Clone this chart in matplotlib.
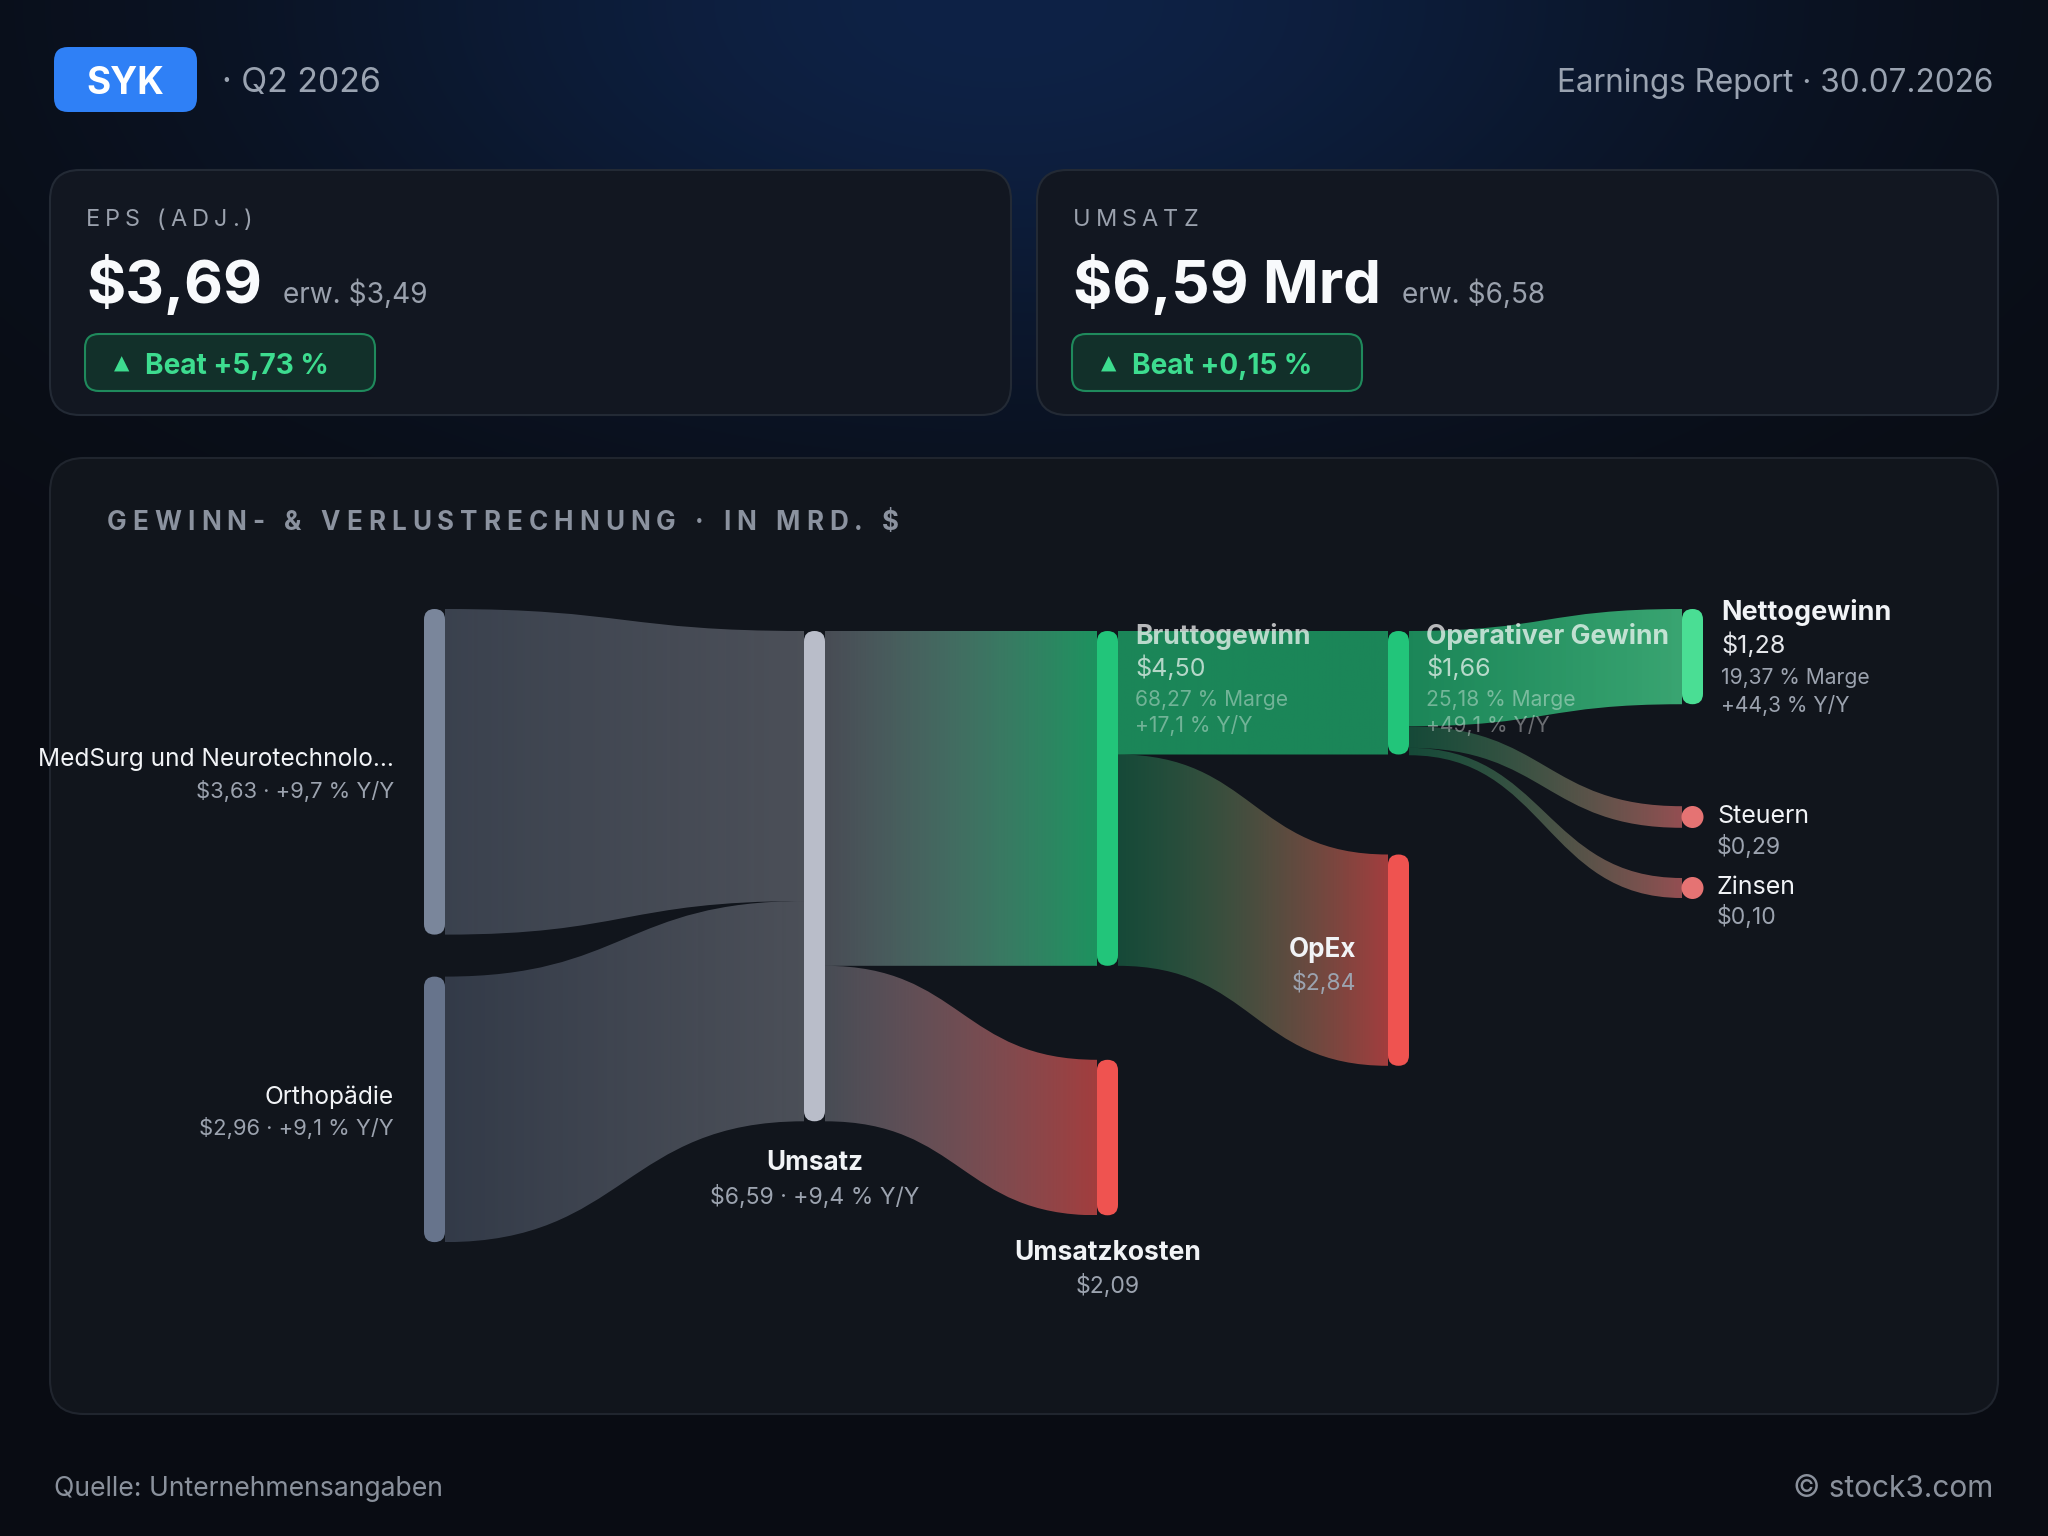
import numpy as np
import matplotlib
matplotlib.use("Agg")
import matplotlib.pyplot as plt
from matplotlib.patches import FancyBboxPatch, PathPatch, Circle
from matplotlib.path import Path
from matplotlib.colors import to_rgb

plt.rcParams['font.family'] = ['Inter', 'DejaVu Sans']

# ---- data ----
ticker = "SYK"
quarter = "Q2 2026"
report_date = "30.07.2026"

kpi_titles = ["EPS (ADJ.)", "UMSATZ"]
kpi_actual = ["$3,69", "$6,59 Mrd"]
kpi_estimate = ["erw. $3,49", "erw. $6,58"]
kpi_beat = ["Beat +5,73 %", "Beat +0,15 %"]

segment_names = ["MedSurg und Neurotechnolo...", "Orthopädie"]
segment_values = [3.63, 2.96]
segment_yoy = ["+9,7 % Y/Y", "+9,1 % Y/Y"]

revenue = 6.59
revenue_yoy = "+9,4 % Y/Y"
cost_of_revenue = 2.09
gross_profit = 4.50
gross_notes = ["68,27 % Marge", "+17,1 % Y/Y"]
opex = 2.84
operating_income = 1.66
operating_notes = ["25,18 % Marge", "+49,1 % Y/Y"]
net_income = 1.28
net_notes = ["19,37 % Marge", "+44,3 % Y/Y"]
taxes = 0.29
interest = 0.10


def money(v):
    return "$" + f"{v:.2f}".replace(".", ",")


# ---- canvas: one axes in pixel units ----
W, H = 2048, 1536
fig = plt.figure(figsize=(W / 100, H / 100), dpi=100)
ax = fig.add_axes([0, 0, 1, 1])
ax.axis("off")
PT = 0.72  # px -> pt at dpi 100

# background with a soft blue glow at the top
yy, xx = np.mgrid[0:H:4, 0:W:4]
glow = np.exp(-((xx - 1000) / 750.0) ** 2 - (yy / 400.0) ** 2)
base = np.array(to_rgb("#090c13"))
blue = np.array(to_rgb("#0e2246"))
bg = base[None, None, :] * (1 - glow[..., None]) + blue[None, None, :] * glow[..., None]
ax.imshow(bg, extent=(0, W, H, 0), zorder=0, interpolation="bilinear", aspect="auto")


def rbox(x, y, w, h, r, fc, ec="none", lw=0, z=1):
    ax.add_patch(FancyBboxPatch((x, y), w, h, boxstyle=f"round,pad=0,rounding_size={r}",
                                fc=fc, ec=ec, lw=lw, zorder=z))


def text_w(t):
    return t.get_window_extent(fig.canvas.get_renderer()).width


def spaced_text(x, y, s, gap, **kw):
    for ch in s:
        if ch == " ":
            x += kw["fontsize"] / PT * 0.28 + gap
            continue
        t = ax.text(x, y, ch, ha="left", **kw)
        x += text_w(t) + gap


# ---- header ----
rbox(54, 47, 143, 65, 14, "#2f80f6", z=2)
ax.text(125.5, 80, ticker, ha="center", va="center_baseline", fontsize=37 * PT,
        fontweight="bold", color="white", zorder=3)
ax.text(222, 80, "· " + quarter, ha="left", va="center_baseline", fontsize=34 * PT,
        color="#9aa3b1", zorder=3)
ax.text(1993, 80, "Earnings Report · " + report_date, ha="right", va="center_baseline",
        fontsize=31.5 * PT, color="#9aa3b1", zorder=3)

# ---- KPI cards ----
for i in range(2):
    dx = i * 987
    rbox(50 + dx, 170, 961, 245, 30, "#121721", ec="#232a35", lw=1.5, z=1)
    spaced_text(86 + dx, 218, kpi_titles[i], 5, va="center_baseline", fontsize=23.5 * PT,
                color="#9aa1ad", zorder=3)
    big = ax.text(86 + dx, 303, kpi_actual[i], ha="left", va="baseline", fontsize=60 * PT,
                  fontweight="bold", color="#f8fafc", zorder=3)
    ax.text(86 + dx + text_w(big) + 21, 303, kpi_estimate[i], ha="left", va="baseline",
            fontsize=28 * PT, color="#9aa1ad", zorder=3)
    rbox(85 + dx, 334, 290, 57, 14, "#12302a", ec="#1f8a5c", lw=1.5, z=2)
    ax.text(122 + dx, 364, "▲", ha="center", va="center", fontsize=20 * PT,
            color="#3ddc8f", family="DejaVu Sans", zorder=3)
    ax.text(145 + dx, 364, kpi_beat[i], ha="left", va="center_baseline", fontsize=28 * PT,
            fontweight="bold", color="#3ddc8f", zorder=3)

# ---- P&L card ----
rbox(50, 458, 1948, 956, 34, "#11151c", ec="#20252e", lw=1.5, z=1)
spaced_text(107, 520, "GEWINN- & VERLUSTRECHNUNG · IN MRD. $", 6, va="center_baseline",
            fontsize=26 * PT, fontweight="bold", color="#8b929f", zorder=3)

# ---- sankey ----
flows = [
    ("seg0", "rev", segment_values[0]),
    ("seg1", "rev", segment_values[1]),
    ("rev", "gp", gross_profit),
    ("rev", "cogs", cost_of_revenue),
    ("gp", "op", operating_income),
    ("gp", "opex", opex),
    ("op", "net", net_income),
    ("op", "tax", taxes),
    ("op", "int", interest),
]
values = {"seg0": segment_values[0], "seg1": segment_values[1], "rev": revenue,
          "gp": gross_profit, "cogs": cost_of_revenue, "op": operating_income,
          "opex": opex, "net": net_income, "tax": taxes, "int": interest}
column = {"seg0": 0, "seg1": 0, "rev": 1, "gp": 2, "cogs": 2, "op": 3, "opex": 3,
          "net": 4, "tax": 4, "int": 4}
col_x = [424, 804, 1097, 1388, 1682]
node_w = 21
col_scale = [89.7, 74.4, 74.4, 74.4, 74.4]
dot_r = 11
dots = ["tax", "int"]
colors = {"seg0": "#7a869b", "seg1": "#67748c", "rev": "#b9bdc9", "gp": "#22c57a",
          "cogs": "#ef5350", "op": "#22c57a", "opex": "#ef5350", "net": "#4ade94",
          "tax": "#e57373", "int": "#e57373"}
link_alpha = {("seg0", "rev"): (0.4, 0.35), ("seg1", "rev"): (0.4, 0.35),
              ("rev", "gp"): (0.33, 0.72), ("rev", "cogs"): (0.33, 0.66),
              ("gp", "op"): (0.65, 0.65), ("gp", "opex"): (0.3, 0.66),
              ("op", "net"): (0.65, 0.72), ("op", "tax"): (0.3, 0.62),
              ("op", "int"): (0.3, 0.62)}


def height(n):
    return values[n] * col_scale[column[n]]


top = {}
top["seg0"] = 609
top["seg1"] = top["seg0"] + height("seg0") + 42
top["rev"] = 631
top["gp"] = 631
top["cogs"] = top["gp"] + height("gp") + 94
top["op"] = 631
top["opex"] = top["op"] + height("op") + 100
top["net"] = 609
dot_center = {"tax": 817, "int": 888}

out_off = dict(top)
in_off = dict(top)


def grad_link(x0, y0t, y0b, x1, y1t, y1b, c0, a0, c1, a1):
    xm = (x0 + x1) / 2
    verts = [(x0, y0t), (xm, y0t), (xm, y1t), (x1, y1t), (x1, y1b),
             (xm, y1b), (xm, y0b), (x0, y0b), (x0, y0t)]
    codes = [Path.MOVETO, Path.CURVE4, Path.CURVE4, Path.CURVE4, Path.LINETO,
             Path.CURVE4, Path.CURVE4, Path.CURVE4, Path.CLOSEPOLY]
    patch = PathPatch(Path(verts, codes), fc="none", ec="none")
    ax.add_patch(patch)
    t = np.linspace(0, 1, 256)
    rgba = np.zeros((1, 256, 4))
    r0, r1 = np.array(to_rgb(c0)), np.array(to_rgb(c1))
    rgba[0, :, :3] = r0[None, :] * (1 - t[:, None]) + r1[None, :] * t[:, None]
    rgba[0, :, 3] = a0 * (1 - t) + a1 * t
    ys = [v[1] for v in verts]
    im = ax.imshow(rgba, extent=(x0, x1, max(ys), min(ys)), aspect="auto",
                   interpolation="bilinear", zorder=4)
    im.set_clip_path(patch)


for src, tgt, v in flows:
    hs = v * col_scale[column[src]]
    ht = v * col_scale[column[tgt]]
    y0t = out_off[src]
    out_off[src] += hs
    if tgt in dots:
        ht = max(ht, 2 * dot_r - 2)
        y1t = dot_center[tgt] - ht / 2
    else:
        y1t = in_off[tgt]
        in_off[tgt] += ht
    a0, a1 = link_alpha[(src, tgt)]
    grad_link(col_x[column[src]] + node_w, y0t, y0t + hs, col_x[column[tgt]], y1t, y1t + ht,
              colors[src], a0, colors[tgt], a1)

for n in values:
    x = col_x[column[n]]
    if n in dots:
        ax.add_patch(Circle((x + node_w / 2, dot_center[n]), dot_r, fc=colors[n], ec="none",
                            zorder=6))
    else:
        rbox(x, top[n], node_w, height(n), node_w / 2, colors[n], z=6)

# ---- sankey labels ----
WHITE = "#f1f3f6"
GREY = "#9ca3af"
for i, n in enumerate(["seg0", "seg1"]):
    cy = top[n] + height(n) / 2
    ax.text(col_x[0] - 30, cy - 15, segment_names[i], ha="right", va="center_baseline",
            fontsize=24.5 * PT, color=WHITE, zorder=7)
    ax.text(col_x[0] - 30, cy + 17, money(segment_values[i]) + " · " + segment_yoy[i],
            ha="right", va="center_baseline", fontsize=22 * PT, color=GREY, zorder=7)

cx = col_x[1] + node_w / 2
yb = top["rev"] + height("rev")
ax.text(cx, yb + 39, "Umsatz", ha="center", va="center_baseline", fontsize=26 * PT,
        fontweight="bold", color=WHITE, zorder=7)
ax.text(cx, yb + 73, money(revenue) + " · " + revenue_yoy, ha="center", va="center_baseline",
        fontsize=23 * PT, color=GREY, zorder=7)

cx = col_x[2] + node_w / 2
yb = top["cogs"] + height("cogs")
ax.text(cx, yb + 35, "Umsatzkosten", ha="center", va="center_baseline", fontsize=26.5 * PT,
        fontweight="bold", color=WHITE, zorder=7)
ax.text(cx, yb + 68, money(cost_of_revenue), ha="center", va="center_baseline",
        fontsize=23 * PT, color=GREY, zorder=7)

# labels drawn over the green bands
for n, name, notes in [("gp", "Bruttogewinn", gross_notes),
                       ("op", "Operativer Gewinn", operating_notes)]:
    x = col_x[column[n]] + node_w + 17
    y = top[n]
    ax.text(x, y + 3, name, ha="left", va="center_baseline", fontsize=26.5 * PT,
            fontweight="bold", color="white", alpha=0.7, zorder=7)
    ax.text(x, y + 35, money(values[n]), ha="left", va="center_baseline", fontsize=25 * PT,
            color="white", alpha=0.68, zorder=7)
    ax.text(x, y + 67, notes[0], ha="left", va="center_baseline", fontsize=21 * PT,
            color="white", alpha=0.38, zorder=7)
    ax.text(x, y + 93, notes[1], ha="left", va="center_baseline", fontsize=21 * PT,
            color="white", alpha=0.38, zorder=7)

x = col_x[4] + node_w + 18
y = top["net"]
ax.text(x, y + 1, "Nettogewinn", ha="left", va="center_baseline", fontsize=27 * PT,
        fontweight="bold", color=WHITE, zorder=7)
ax.text(x, y + 34, money(net_income), ha="left", va="center_baseline", fontsize=25 * PT,
        color="#e5e7eb", zorder=7)
ax.text(x, y + 67, net_notes[0], ha="left", va="center_baseline", fontsize=21 * PT,
        color=GREY, zorder=7)
ax.text(x, y + 94, net_notes[1], ha="left", va="center_baseline", fontsize=21 * PT,
        color=GREY, zorder=7)

cy = top["opex"] + height("opex") / 2
ax.text(col_x[3] - 32, cy - 13, "OpEx", ha="right", va="center_baseline", fontsize=26 * PT,
        fontweight="bold", color=WHITE, zorder=7)
ax.text(col_x[3] - 32, cy + 20, money(opex), ha="right", va="center_baseline",
        fontsize=23 * PT, color=GREY, zorder=7)

for n, name in [("tax", "Steuern"), ("int", "Zinsen")]:
    x = col_x[4] + node_w + 14
    ax.text(x, dot_center[n] - 3, name, ha="left", va="center_baseline", fontsize=25 * PT,
            color=WHITE, zorder=7)
    ax.text(x, dot_center[n] + 27, money(values[n]), ha="left", va="center_baseline",
            fontsize=23 * PT, color=GREY, zorder=7)

# ---- footer ----
ax.text(54, 1486, "Quelle: Unternehmensangaben", ha="left", va="center_baseline",
        fontsize=26.6 * PT, color="#8a919c", zorder=3)
ax.text(1993, 1486, "© stock3.com", ha="right", va="center_baseline", fontsize=29.8 * PT,
        color="#8a919c", zorder=3)

ax.set_xlim(0, W)
ax.set_ylim(H, 0)
fig.savefig("out.png", dpi=100, facecolor="#090c13")
